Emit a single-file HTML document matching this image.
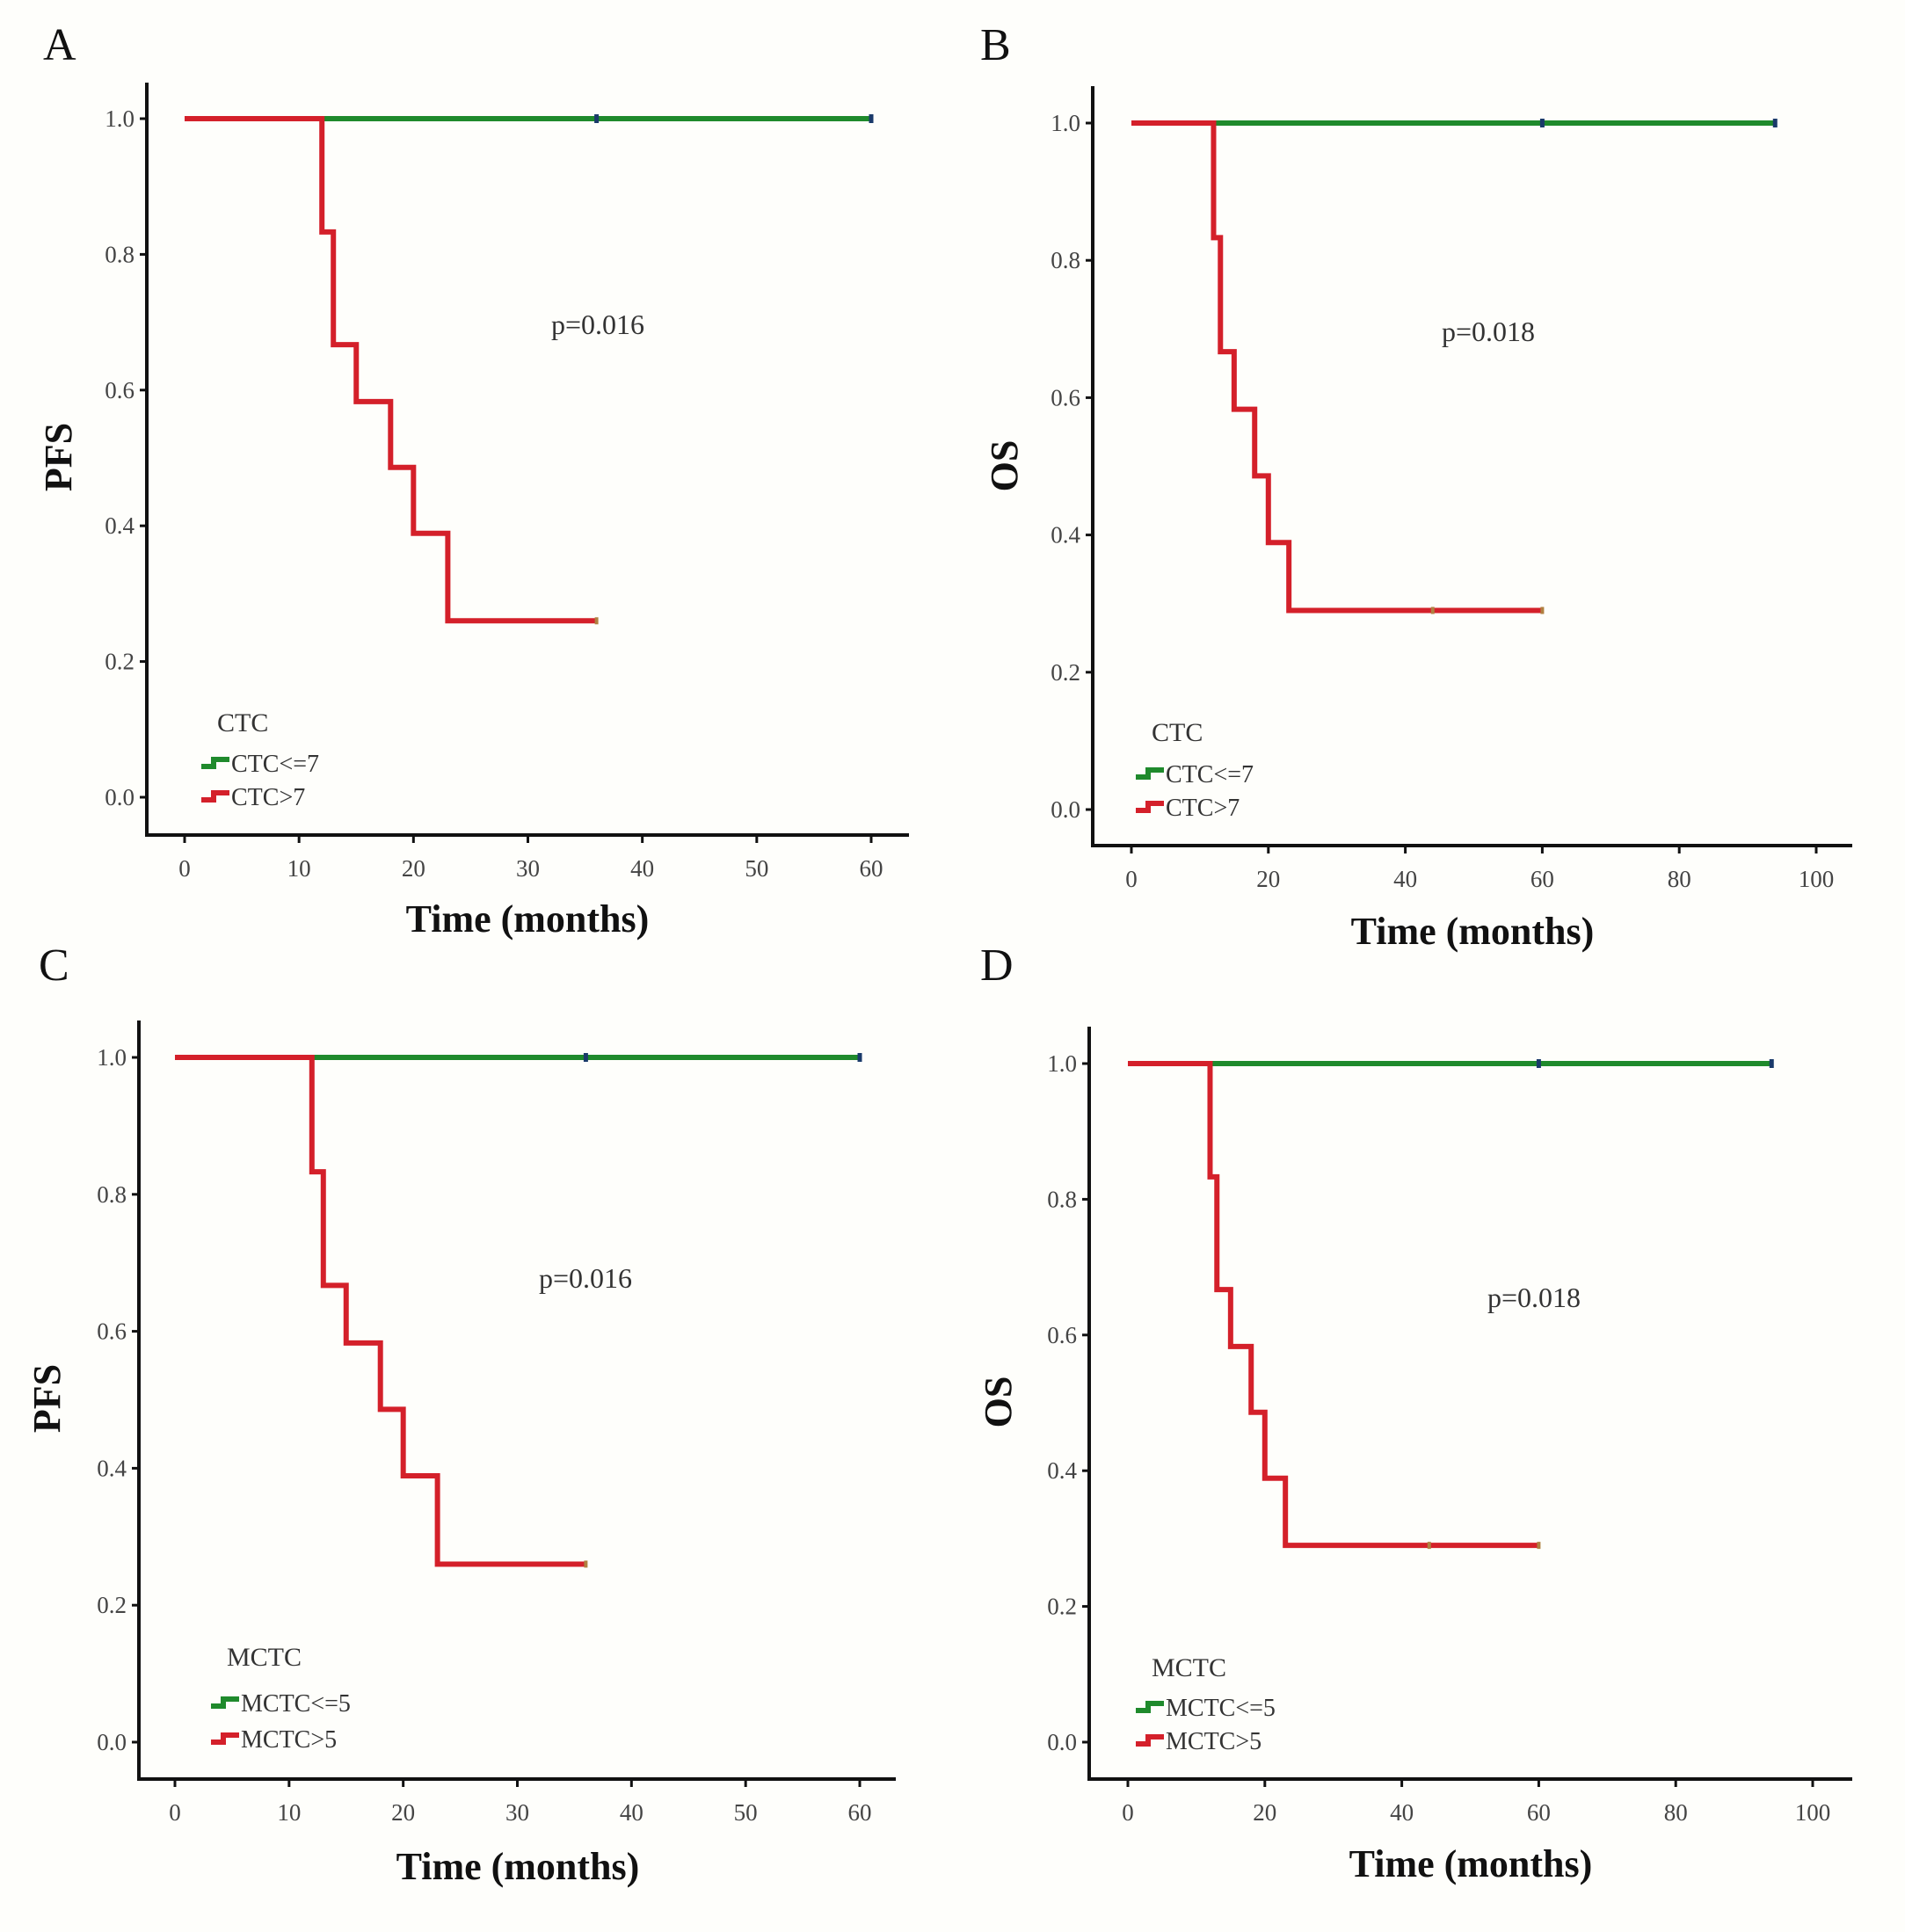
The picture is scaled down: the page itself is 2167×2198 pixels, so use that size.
<!DOCTYPE html>
<html><head><meta charset="utf-8"><style>
html,body{margin:0;padding:0;background:#fefefb}
svg{display:block}
text{font-family:"Liberation Serif",serif}
</style></head><body>
<svg id="fig" width="2167" height="2198" viewBox="0 0 2167 2198" xmlns="http://www.w3.org/2000/svg">
<rect width="2167" height="2198" fill="#fefefb"/>
</svg>
<script>
// Kaplan-Meier data (months, survival)
const redTimesPFS = [0, 12, 13, 15, 18, 20, 23, 36];
const redSurvPFS = [1.0, 0.833, 0.667, 0.583, 0.486, 0.389, 0.26, 0.26];
const greenTimesPFS = [0, 60];
const greenSurvPFS = [1.0, 1.0];
const greenCensorPFS = [36, 60];
const redCensorPFS = [36];
const redTimesOS = [0, 12, 13, 15, 18, 20, 23, 60];
const redSurvOS = [1.0, 0.833, 0.667, 0.583, 0.486, 0.389, 0.29, 0.29];
const greenTimesOS = [0, 94];
const greenSurvOS = [1.0, 1.0];
const greenCensorOS = [60, 94];
const redCensorOS = [44, 60];
const yTicks = [0.0, 0.2, 0.4, 0.6, 0.8, 1.0];
const yTickLabels = ["0.0", "0.2", "0.4", "0.6", "0.8", "1.0"];
const xTicksPFS = [0, 10, 20, 30, 40, 50, 60];
const xTicksOS = [0, 20, 40, 60, 80, 100];
const pValues = ["p=0.016", "p=0.018", "p=0.016", "p=0.018"];

const NS = "http://www.w3.org/2000/svg";
const svg = document.getElementById('fig');
function mk(tag, attrs, parent) {
  const e = document.createElementNS(NS, tag);
  for (const k in attrs) e.setAttribute(k, attrs[k]);
  (parent || svg).appendChild(e);
  return e;
}
function txt(s, attrs, parent) { const t = mk('text', attrs, parent); t.textContent = s; return t; }

const panels = [
  {letter:'A', lx:49, ly:68, axX:167, axTop:94, axBot:950, axRight:1034, x0:210, x1:991, xMax:60, y1:135, y0:907,
   ylab:'PFS', ylx:66, yly:520, tx:600, ty:1060, px:680, py:380, legX:229, legT:822, legE1:868, legE2:906, grp:'CTC', e1:'CTC<=7', e2:'CTC>7',
   xt:xTicksPFS, rT:redTimesPFS, rS:redSurvPFS, gT:greenTimesPFS, gS:greenSurvPFS, gC:greenCensorPFS, rC:redCensorPFS},
  {letter:'B', lx:1115, ly:68, axX:1243, axTop:98, axBot:962, axRight:2107, x0:1287, x1:2066, xMax:100, y1:140, y0:921,
   ylab:'OS', ylx:1142, yly:530, tx:1675, ty:1074, px:1693, py:388, legX:1292, legT:833, legE1:880, legE2:918, grp:'CTC', e1:'CTC<=7', e2:'CTC>7',
   xt:xTicksOS, rT:redTimesOS, rS:redSurvOS, gT:greenTimesOS, gS:greenSurvOS, gC:greenCensorOS, rC:redCensorOS},
  {letter:'C', lx:44, ly:1115, axX:158, axTop:1161, axBot:2024, axRight:1019, x0:199, x1:978, xMax:60, y1:1203, y0:1982,
   ylab:'PFS', ylx:53, yly:1591, tx:589, ty:2138, px:666, py:1465, legX:240, legT:1885, legE1:1937, legE2:1978, grp:'MCTC', e1:'MCTC<=5', e2:'MCTC>5',
   xt:xTicksPFS, rT:redTimesPFS, rS:redSurvPFS, gT:greenTimesPFS, gS:greenSurvPFS, gC:greenCensorPFS, rC:redCensorPFS},
  {letter:'D', lx:1115, ly:1115, axX:1239, axTop:1168, axBot:2024, axRight:2107, x0:1283, x1:2062, xMax:100, y1:1210, y0:1982,
   ylab:'OS', ylx:1135, yly:1595, tx:1673, ty:2135, px:1745, py:1487, legX:1292, legT:1897, legE1:1942, legE2:1980, grp:'MCTC', e1:'MCTC<=5', e2:'MCTC>5',
   xt:xTicksOS, rT:redTimesOS, rS:redSurvOS, gT:greenTimesOS, gS:greenSurvOS, gC:greenCensorOS, rC:redCensorOS}
];

function stepPath(ts, ss, sx, sy) {
  let d = 'M' + sx(ts[0]) + ' ' + sy(ss[0]);
  for (let i = 1; i < ts.length; i++) {
    d += ' L' + sx(ts[i]) + ' ' + sy(ss[i-1]) + ' L' + sx(ts[i]) + ' ' + sy(ss[i]);
  }
  return d;
}

panels.forEach((p, idx) => {
  const g = mk('g', {});
  
  
  const sx = v => p.x0 + (p.x1 - p.x0) * v / p.xMax;
  const sy = v => p.y0 + (p.y1 - p.y0) * v;

  const L = txt(p.letter, {x:p.lx, y:p.ly, 'font-size':52, fill:'#111'}, g);
  
  

  // axes
  const ax = mk('path', {d:`M${p.axX} ${p.axTop} L${p.axX} ${p.axBot} L${p.axRight} ${p.axBot}`, fill:'none', stroke:'#111', 'stroke-width':4}, g);
  
  

  yTicks.forEach((v, i) => {
    const tk = mk('line', {x1:p.axX - 8, x2:p.axX, y1:sy(v), y2:sy(v), stroke:'#111', 'stroke-width':3}, g);
    
    
    const t = txt(yTickLabels[i], {x:p.axX - 14, y:sy(v) + 9, 'font-size':27, 'text-anchor':'end', fill:'#444'}, g);
    
    
  });
  p.xt.forEach(v => {
    const tk = mk('line', {x1:sx(v), x2:sx(v), y1:p.axBot, y2:p.axBot + 9, stroke:'#111', 'stroke-width':3}, g);
    
    
    const t = txt(String(v), {x:sx(v), y:p.axBot + 47, 'font-size':27, 'text-anchor':'middle', fill:'#444'}, g);
    
    
  });

  const xt = txt('Time (months)', {x:p.tx, y:p.ty, 'font-size':44, 'font-weight':'bold', 'text-anchor':'middle', fill:'#111'}, g);
  
  
  const yt = txt(p.ylab, {x:p.ylx, y:p.yly, 'font-size':44, 'font-weight':'bold', 'text-anchor':'middle', fill:'#111', transform:`rotate(-90 ${p.ylx} ${p.yly})`, dy:15}, g);
  
  

  const pv = txt(pValues[idx], {x:p.px, y:p.py, 'font-size':32, 'text-anchor':'middle', fill:'#333'}, g);
  
  

  // curves
  const gp = mk('path', {d:stepPath(p.gT, p.gS, sx, sy), fill:'none', stroke:'#1f8a2c', 'stroke-width':6}, g);
  
  
  const rp = mk('path', {d:stepPath(p.rT, p.rS, sx, sy), fill:'none', stroke:'#d4202a', 'stroke-width':6, 'stroke-linejoin':'miter'}, g);
  
  
  p.gC.forEach(c => {
    const m = mk('line', {x1:sx(c), x2:sx(c), y1:sy(1) - 5, y2:sy(1) + 5, stroke:'#1a3a6a', 'stroke-width':5}, g);
    
    
  });
  const lastS = p.rS[p.rS.length - 1];
  p.rC.forEach(c => {
    const m = mk('line', {x1:sx(c), x2:sx(c), y1:sy(lastS) - 4, y2:sy(lastS) + 4, stroke:'#b08040', 'stroke-width':4}, g);
    
    
  });

  // legend
  const lg = mk('g', {}, g);
  
  
  const lt = txt(p.grp, {x:p.legX + 18, y:p.legT + 10, 'font-size':30, fill:'#333'}, lg);
  
  
  [[p.e1, '#1f8a2c', p.legE1], [p.e2, '#d4202a', p.legE2]].forEach(([lab, col, yy]) => {
    const ic = mk('path', {d:`M${p.legX} ${yy+4} L${p.legX+14} ${yy+4} L${p.legX+14} ${yy-4} L${p.legX+32} ${yy-4}`, fill:'none', stroke:col, 'stroke-width':6}, lg);
    
    
    const t = txt(lab, {x:p.legX + 34, y:yy + 10, 'font-size':28, fill:'#333'}, lg);
    
    
  });
});
</script>
</body></html>
